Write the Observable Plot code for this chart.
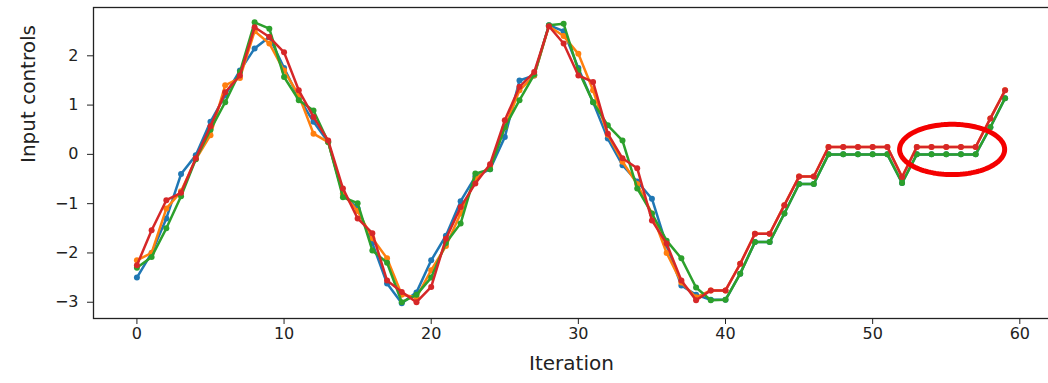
<!DOCTYPE html>
<html>
<head>
<meta charset="utf-8">
<script src="https://cdn.jsdelivr.net/npm/d3@7"></script>
<script src="https://cdn.jsdelivr.net/npm/@observablehq/plot@0.6"></script>
<style>
  html, body { margin: 0; padding: 0; background: #fff; overflow: hidden; }
  #chart { width: 1048px; overflow: hidden; }
  #chart svg { display: block; max-width: none !important; }
</style>
</head>
<body>
<div id="chart"></div>
<script>
// ---- data ----
const iterations = d3.range(60);

const seriesNames = ["s0", "s1", "s2", "s3"];

const blueValues = [
  -2.5, -2.0, -1.3, -0.4, -0.02, 0.66, 1.2, 1.7, 2.15, 2.38,
  1.75, 1.15, 0.66, 0.25, -0.8, -1.1, -1.8, -2.62, -3.02, -2.8,
  -2.15, -1.65, -0.95, -0.45, -0.3, 0.35, 1.5, 1.6, 2.62, 2.5,
  1.75, 1.06, 0.32, -0.22, -0.55, -0.9, -1.85, -2.66, -2.85, -2.95,
  -2.95, -2.42, -1.78, -1.78, -1.2, -0.6, -0.6, 0.0, 0.0, 0.0,
  0.0, 0.0, -0.58, 0.0, 0.0, 0.0, 0.0, 0.0, 0.55, 1.14
];

const orangeValues = [
  -2.15, -2.0, -1.1, -0.75, -0.1, 0.39, 1.4, 1.55, 2.5, 2.25,
  1.7, 1.2, 0.42, 0.25, -0.8, -1.15, -1.7, -2.11, -2.85, -2.9,
  -2.35, -1.86, -1.2, -0.5, -0.25, 0.55, 1.3, 1.6, 2.6, 2.4,
  2.04, 1.3, 0.4, -0.15, -0.6, -1.2, -2.0, -2.6, -2.9, -2.76,
  -2.76, -2.22, -1.61, -1.61, -1.03, -0.45, -0.45, 0.15, 0.15, 0.15,
  0.15, 0.15, -0.46, 0.15, 0.15, 0.15, 0.15, 0.15, 0.73, 1.3
];

const greenValues = [
  -2.3, -2.08, -1.5, -0.85, -0.1, 0.5, 1.06, 1.67, 2.68, 2.55,
  1.57, 1.1, 0.89, 0.25, -0.87, -0.99, -1.95, -2.2, -3.0, -2.85,
  -2.5, -1.8, -1.4, -0.39, -0.3, 0.55, 1.1, 1.62, 2.62, 2.65,
  1.7, 1.06, 0.59, 0.28, -0.69, -1.2, -1.75, -2.11, -2.7, -2.96,
  -2.95, -2.42, -1.78, -1.78, -1.2, -0.6, -0.6, 0.0, 0.0, 0.0,
  0.0, 0.0, -0.58, 0.0, 0.0, 0.0, 0.0, 0.0, 0.55, 1.14
];

const redValues = [
  -2.25, -1.54, -0.93, -0.78, -0.08, 0.57, 1.26, 1.6, 2.58, 2.38,
  2.07, 1.3, 0.76, 0.28, -0.69, -1.3, -1.6, -2.56, -2.79, -3.0,
  -2.69, -1.71, -1.07, -0.59, -0.2, 0.69, 1.37, 1.67, 2.6, 2.25,
  1.6, 1.47, 0.42, -0.08, -0.28, -1.34, -1.81, -2.56, -2.96, -2.76,
  -2.76, -2.22, -1.61, -1.61, -1.03, -0.45, -0.45, 0.15, 0.15, 0.15,
  0.15, 0.15, -0.46, 0.15, 0.15, 0.15, 0.15, 0.15, 0.73, 1.3
];

const xTicks = [0, 10, 20, 30, 40, 50, 60];
const yTicks = [-3, -2, -1, 0, 1, 2];
const xLabel = "Iteration";
const yLabel = "Input controls";

// annotation ellipse (data units): center x, center y, radius x, radius y
const ellipseCenter = [55.4, 0.10];
const ellipseRadii = [3.57, 0.51];

// ---- build tables ----
const allValues = [blueValues, orangeValues, greenValues, redValues];
const rows = [];
seriesNames.forEach((name, k) => {
  iterations.forEach((it, i) => rows.push({series: name, x: it, y: allValues[k][i]}));
});

const ellipsePts = d3.range(0, 361, 3).map(a => ({
  x: ellipseCenter[0] + ellipseRadii[0] * Math.cos(a * Math.PI / 180),
  y: ellipseCenter[1] + ellipseRadii[1] * Math.sin(a * Math.PI / 180)
}));

const colors = ["#1f77b4", "#ff7f0e", "#2ca02c", "#d62728"];

const seriesMarks = seriesNames.flatMap(name => {
  const d = rows.filter(r => r.series === name);
  return [
    Plot.line(d, {x: "x", y: "y", stroke: "series", strokeWidth: 2.5}),
    Plot.dot(d, {x: "x", y: "y", fill: "series", r: 3})
  ];
});

const intFormat = d3.format("d");

const chart = Plot.plot({
  width: 1053,
  height: 383,
  marginLeft: 93,
  marginRight: 0,
  marginTop: 7,
  marginBottom: 65,
  style: {fontFamily: "DejaVu Sans, sans-serif", fontSize: "16px", color: "#222", background: "#fff", maxWidth: "none"},
  x: {domain: [-2.95, 62.29], ticks: xTicks, label: null},
  y: {domain: [-3.33, 2.98], ticks: yTicks, label: null},
  color: {domain: seriesNames, range: colors},
  marks: [
    ...seriesMarks,
    Plot.line(ellipsePts, {x: "x", y: "y", stroke: "#f40000", strokeWidth: 5, curve: "linear"}),
    Plot.frame({stroke: "#222", strokeWidth: 1.3}),
    Plot.axisX({ticks: xTicks, tickSize: 6, tickPadding: 3, label: null, fontSize: 16, tickFormat: intFormat}),
    Plot.axisY({ticks: yTicks, tickSize: 6, tickPadding: 9, label: null, fontSize: 16, tickFormat: intFormat}),
    Plot.text([xLabel], {text: d => d, frameAnchor: "bottom", dy: 51, dx: -2, fontSize: 20, fill: "#222"}),
    Plot.text([yLabel], {text: d => d, frameAnchor: "left", dx: -65, rotate: -90, fontSize: 20, fill: "#222"})
  ]
});

document.getElementById("chart").appendChild(chart);
</script>
</body>
</html>
